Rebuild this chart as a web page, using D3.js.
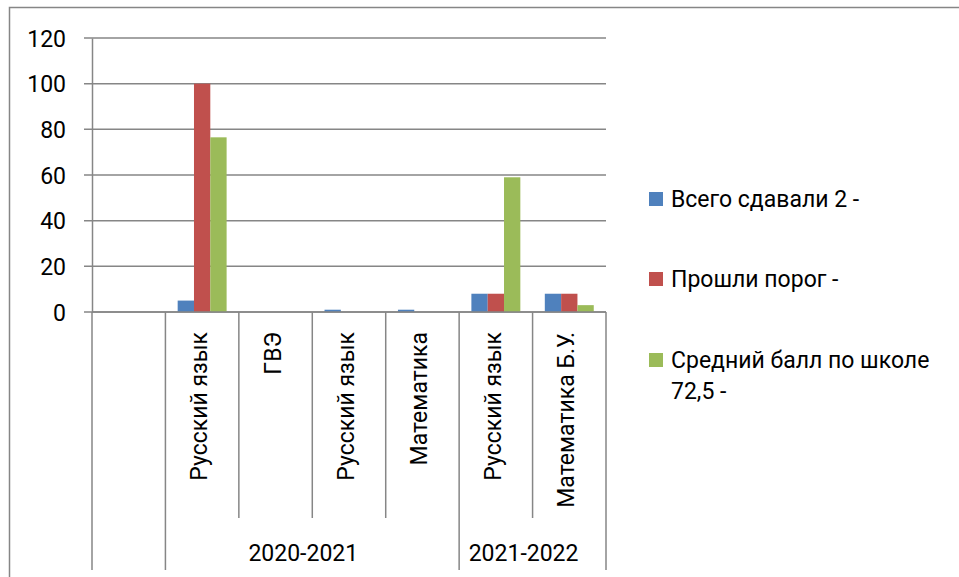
<!DOCTYPE html>
<html><head><meta charset="utf-8">
<script src="https://cdn.jsdelivr.net/npm/d3@7"></script>
<style>body{margin:0;background:#fff}svg{display:block}text{font-family:Roboto,"Noto Sans",sans-serif;fill:#000}</style>
</head><body><svg id="c" width="959" height="577"></svg>
<script>
const categories = ["", "Русский язык", "ГВЭ", "Русский язык", "Математика", "Русский язык", "Математика Б.У."];
const groups = [
  {label: "", start: 0, end: 1},
  {label: "2020-2021", start: 1, end: 5},
  {label: "2021-2022", start: 5, end: 7}
];
const seriesNames = ["Всего сдавали 2 -", "Прошли порог -", "Средний балл по школе 72,5 -"];
const seriesColors = ["#4F81BD", "#C0504D", "#9BBB59"];
const allPassed = [0, 5, 0, 1, 1, 8, 8];
const passedThreshold = [0, 100, 0, 0, 0, 8, 8];
const avgScore = [0, 76.5, 0, 0, 0, 59, 3];
const yTicks = [0, 20, 40, 60, 80, 100, 120];

(function () {
const series = [allPassed, passedThreshold, avgScore];
const svg = d3.select("#c");
const pL = 92, pR = 606, pT = 38, pB = 312;
const grey = "#868686";
const fs = 23;

// outer border
svg.append("rect").attr("x", 9.5).attr("y", 7.5).attr("width", 960).attr("height", 580)
  .attr("fill", "none").attr("stroke", grey).attr("stroke-width", 1.5);

const idx = categories.map((d, i) => i);
const x = d3.scaleBand().domain(idx).range([pL, pR]);
const bw = x.bandwidth();
// Excel gap width 150%: bar width = band/(3+1.5)
const xs = d3.scaleBand().domain([0, 1, 2]).range([bw * 0.75 / 4.5, bw - bw * 0.75 / 4.5]);
const y = d3.scaleLinear().domain([0, 120]).range([pB, pT]);

// gridlines
svg.append("g").selectAll("line").data(yTicks).join("line")
  .attr("x1", pL - 8).attr("x2", pR).attr("y1", d => y(d)).attr("y2", d => y(d))
  .attr("stroke", grey).attr("stroke-width", 1.5);

// y axis
const yAxis = d3.axisLeft(y).tickValues(yTicks).tickSize(0).tickPadding(26);
const ya = svg.append("g").attr("transform", `translate(${pL},0)`).call(yAxis);
ya.select(".domain").attr("stroke", grey).attr("stroke-width", 1.5);
ya.selectAll("text").attr("font-size", fs).attr("dy", "0.36em").attr("font-family", null)
  .style("font-family", "Roboto,'Noto Sans',sans-serif");

// bars
series.forEach((vals, s) => {
  svg.append("g").selectAll("rect").data(vals.map((v, i) => ({v, i}))).join("rect")
    .attr("x", d => x(d.i) + xs(s)).attr("width", xs.bandwidth())
    .attr("y", d => y(d.v)).attr("height", d => y(0) - y(d.v))
    .attr("fill", seriesColors[s]);
});

// x axis baseline
svg.append("line").attr("x1", pL).attr("x2", pR).attr("y1", pB).attr("y2", pB)
  .attr("stroke", grey).attr("stroke-width", 1.5);

// category boundary lines
const groupEdges = new Set();
groups.forEach(g => { groupEdges.add(g.start); groupEdges.add(g.end); });
const bounds = d3.range(categories.length + 1);
const bx = d => d < categories.length ? x(d) : pR;
svg.append("g").selectAll("line").data(bounds).join("line")
  .attr("x1", bx).attr("x2", bx)
  .attr("y1", pB).attr("y2", d => groupEdges.has(d) ? 570 : 518)
  .attr("stroke", grey).attr("stroke-width", 1.5);

// category labels (rotated)
svg.append("g").selectAll("text").data(categories.map((c, i) => ({c, i}))).join("text")
  .attr("transform", d => `translate(${x(d.i) + bw / 2 + 5},332) rotate(-90)`)
  .attr("text-anchor", "end").attr("font-size", fs).text(d => d.c);

// group labels
svg.append("g").selectAll("text").data(groups).join("text")
  .attr("x", d => (bx(d.start) + bx(d.end)) / 2 - 9)
  .attr("y", 561).attr("text-anchor", "middle").attr("font-size", fs).text(d => d.label);

// legend
const legY = [207, 287, 368];
const lg = svg.append("g");
seriesNames.forEach((name, i) => {
  lg.append("rect").attr("x", 649).attr("y", legY[i] - 15).attr("width", 14).attr("height", 14)
    .attr("fill", seriesColors[i]);
  const t = lg.append("text").attr("x", 671).attr("y", legY[i]).attr("font-size", fs);
  if (i === 2) {
    t.append("tspan").attr("x", 671).text("Средний балл по школе");
    t.append("tspan").attr("x", 671).attr("dy", 31).text("72,5 -");
  } else t.text(name);
});
})();
</script></body></html>
